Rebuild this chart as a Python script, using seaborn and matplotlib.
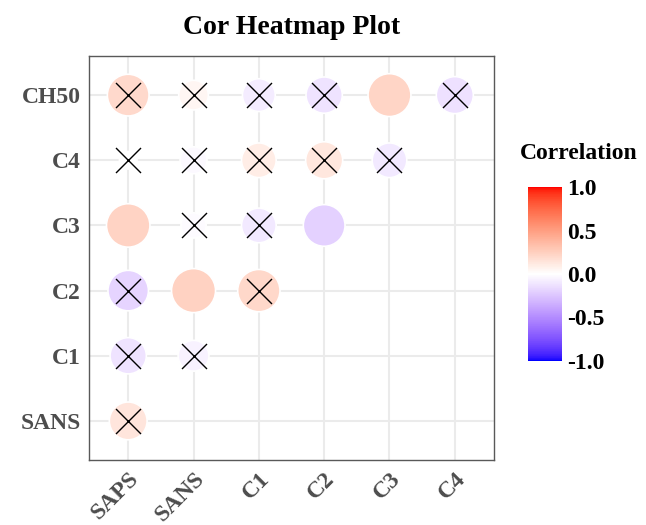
import numpy as np
import pandas as pd
import matplotlib
matplotlib.use("Agg")
import matplotlib.pyplot as plt
import seaborn as sns
from matplotlib.colors import ListedColormap, Normalize
from matplotlib.cm import ScalarMappable

# variables on each axis (x left->right, y bottom->top)
x_vars = ["SAPS", "SANS", "C1", "C2", "C3", "C4"]
y_vars = ["SANS", "C1", "C2", "C3", "C4", "CH50"]

# correlations, one list per row (y variable)
r_sans = [0.14]
r_c1 = [-0.12, -0.06]
r_c2 = [-0.18, 0.24, 0.21]
r_c3 = [0.23, -0.02, -0.10, -0.20]
r_c4 = [0.00, -0.03, 0.10, 0.13, -0.10]
r_ch50 = [0.20, 0.05, -0.08, -0.12, 0.22, -0.13]

# significant pairs (no cross drawn)
sig_pairs = [("CH50", "C3"), ("C3", "SAPS"), ("C3", "C2"), ("C2", "SANS")]

rows = {"SANS": r_sans, "C1": r_c1, "C2": r_c2, "C3": r_c3, "C4": r_c4, "CH50": r_ch50}
records = []
for yv, vals in rows.items():
    for i, v in enumerate(vals):
        records.append({"x": x_vars[i], "y": yv, "corr": v,
                        "sig": (yv, x_vars[i]) in sig_pairs})
df = pd.DataFrame(records)
df["xi"] = df["x"].map({v: i for i, v in enumerate(x_vars)})
df["yi"] = df["y"].map({v: i for i, v in enumerate(y_vars)})
df["abs"] = df["corr"].abs()


# blue - white - red gradient, interpolated in Lab like ggplot
def _to_lab(rgb):
    rgb = np.asarray(rgb, float)
    lin = np.where(rgb <= 0.04045, rgb / 12.92, ((rgb + 0.055) / 1.055) ** 2.4)
    m = np.array([[0.4124, 0.3576, 0.1805], [0.2126, 0.7152, 0.0722], [0.0193, 0.1192, 0.9505]])
    xyz = lin @ m.T / np.array([0.95047, 1.0, 1.08883])
    f = np.where(xyz > 0.008856, np.cbrt(xyz), 7.787 * xyz + 16 / 116)
    return np.stack([116 * f[..., 1] - 16, 500 * (f[..., 0] - f[..., 1]), 200 * (f[..., 1] - f[..., 2])], -1)


def _from_lab(lab):
    fy = (lab[..., 0] + 16) / 116
    fx = fy + lab[..., 1] / 500
    fz = fy - lab[..., 2] / 200
    f = np.stack([fx, fy, fz], -1)
    xyz = np.where(f > 0.2069, f ** 3, (f - 16 / 116) / 7.787) * np.array([0.95047, 1.0, 1.08883])
    mi = np.array([[3.2406, -1.5372, -0.4986], [-0.9689, 1.8758, 0.0415], [0.0557, -0.2040, 1.0570]])
    lin = np.clip(xyz @ mi.T, 0, 1)
    rgb = np.where(lin <= 0.0031308, 12.92 * lin, 1.055 * lin ** (1 / 2.4) - 0.055)
    return np.clip(rgb, 0, 1)


lo, mid, hi = _to_lab([0, 0, 1]), _to_lab([1, 1, 1]), _to_lab([1, 0, 0])
t = np.linspace(0, 1, 128)[:, None]
lab = np.vstack([lo + (mid - lo) * t, mid + (hi - mid) * t])
cmap = ListedColormap(_from_lab(lab))
norm = Normalize(-1, 1)

# ggplot scale_size(range = c(4, 10)) on abs correlation
rr = (df["abs"] - df["abs"].min()) / (df["abs"].max() - df["abs"].min())
df["area"] = ((4 + 6 * np.sqrt(rr)) * 3.17) ** 2

sns.set_style("white")
plt.rcParams["font.family"] = ["Liberation Serif", "DejaVu Serif"]
plt.rcParams["font.weight"] = "bold"

fig = plt.figure(figsize=(6.46, 5.25), dpi=100)
ax = fig.add_axes([0.1378, 0.1238, 0.6269, 0.7695])

for i in range(len(x_vars)):
    ax.axvline(i, color="#EBEBEB", lw=1.5, zorder=0)
for i in range(len(y_vars)):
    ax.axhline(i, color="#EBEBEB", lw=1.5, zorder=0)

sns.scatterplot(data=df, x="xi", y="yi", hue="corr", palette=cmap, hue_norm=norm,
                size="area", sizes=(df["area"].min(), df["area"].max()),
                size_norm=(df["area"].min(), df["area"].max()),
                edgecolor="white", linewidth=1.2, legend=False, ax=ax, zorder=2)

ns = df[~df["sig"]]
ax.scatter(ns["xi"], ns["yi"], marker="x", s=18 ** 2, color="black", linewidths=1.0, zorder=3)

ax.set_xlim(-0.6, len(x_vars) - 0.4)
ax.set_ylim(-0.6, len(y_vars) - 0.4)
ax.set_xticks(range(len(x_vars)))
ax.set_xticklabels(x_vars, rotation=45, ha="right", va="top", rotation_mode="anchor")
ax.set_yticks(range(len(y_vars)))
ax.set_yticklabels(y_vars)
ax.set_xlabel("")
ax.set_ylabel("")
ax.tick_params(axis="both", length=4, width=1.3, color="#333333", labelcolor="#4D4D4D",
               labelsize=17, pad=2)
for s in ax.spines.values():
    s.set_color("#595959")
    s.set_linewidth(1.0)
ax.set_title("Cor Heatmap Plot", fontsize=20, fontweight="bold", color="black", pad=16)

cax = fig.add_axes([0.8173, 0.3124, 0.0526, 0.3314])
cb = fig.colorbar(ScalarMappable(norm=norm, cmap=cmap), cax=cax, ticks=[-1, -0.5, 0, 0.5, 1])
cb.outline.set_visible(False)
cb.ax.set_yticklabels(["-1.0", "-0.5", "0.0", "0.5", "1.0"])
cb.ax.tick_params(left=True, right=True, direction="in", color="white", length=6, width=0.8,
                  labelsize=17, labelcolor="black", pad=4)
fig.text(0.805, 0.697, "Correlation", fontsize=17, fontweight="bold", color="black",
         ha="left", va="baseline")

fig.savefig("out.png", dpi=100)
